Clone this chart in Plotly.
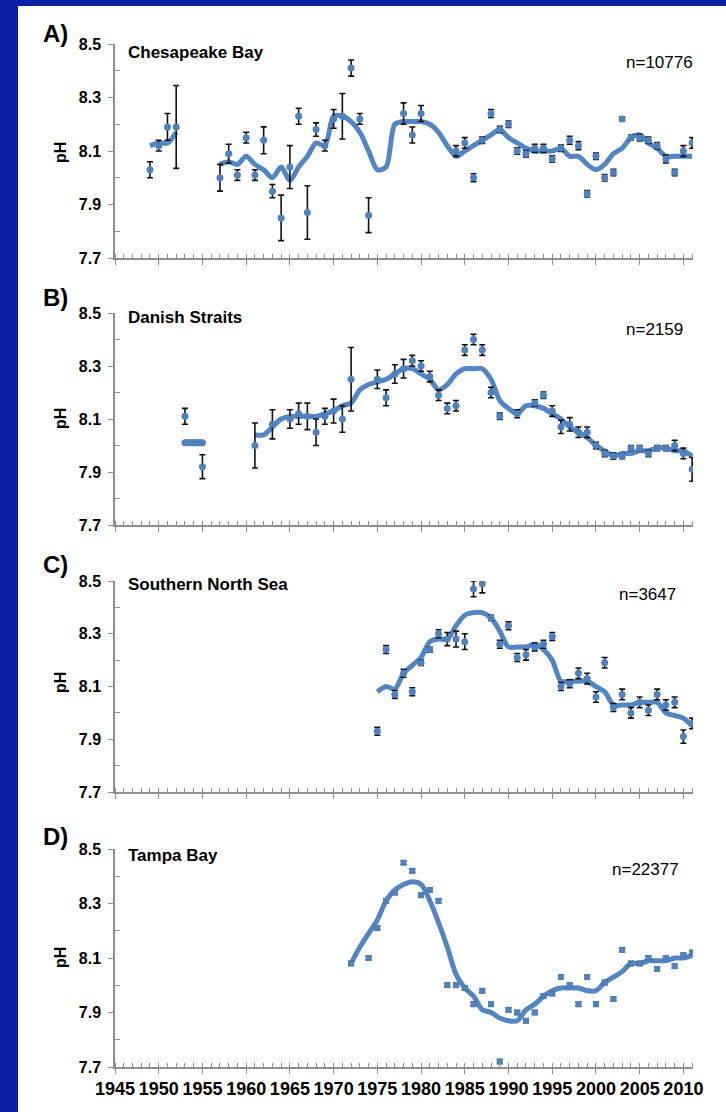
import plotly.graph_objects as go

W, H = 726, 1112

# ---------------- data ----------------
# A) Chesapeake Bay
years_A = [1949, 1950, 1951, 1952, 1957, 1958, 1959, 1960, 1961, 1962, 1963, 1964, 1965, 1966,
           1967, 1968, 1969, 1970, 1971, 1972, 1973, 1974, 1978, 1979, 1980, 1984, 1985, 1986,
           1987, 1988, 1989, 1990, 1991, 1992, 1993, 1994, 1995, 1996, 1997, 1998, 1999, 2000,
           2001, 2002, 2003, 2004, 2005, 2006, 2007, 2008, 2009, 2010, 2011]
ph_A = [8.03, 8.12, 8.19, 8.19, 8.00, 8.09, 8.01, 8.15, 8.01, 8.14, 7.95, 7.85, 8.04, 8.23,
        7.87, 8.18, 8.12, 8.22, 8.23, 8.41, 8.22, 7.86, 8.24, 8.16, 8.24, 8.10, 8.13, 8.00,
        8.14, 8.24, 8.18, 8.20, 8.10, 8.09, 8.11, 8.11, 8.07, 8.11, 8.14, 8.12, 7.94, 8.08,
        8.00, 8.02, 8.22, 8.15, 8.15, 8.14, 8.12, 8.07, 8.02, 8.10, 8.13]
err_A = [0.03, 0.02, 0.05, 0.155, 0.05, 0.035, 0.02, 0.02, 0.02, 0.05, 0.025, 0.085, 0.08, 0.03,
         0.10, 0.025, 0.02, 0.035, 0.085, 0.03, 0.02, 0.065, 0.04, 0.03, 0.03, 0.02, 0.02, 0.015,
         0.012, 0.015, 0.012, 0.012, 0.012, 0.012, 0.015, 0.015, 0.012, 0.012, 0.015, 0.015, 0.012, 0.012,
         0.012, 0.012, 0.008, 0.01, 0.012, 0.012, 0.012, 0.015, 0.012, 0.02, 0.02]
trend_years_A = [1949, 1950, 1951, 1952, 1954, 1957, 1958, 1959, 1960, 1961, 1962, 1963, 1964, 1965,
                 1966, 1967, 1968, 1969, 1970, 1971, 1972, 1973, 1974, 1975, 1976, 1977, 1978,
                 1979, 1980, 1981, 1982, 1983, 1984, 1985, 1986, 1987, 1988, 1989, 1990, 1991,
                 1992, 1993, 1994, 1995, 1996, 1997, 1998, 1999, 2000, 2001, 2002, 2003, 2004,
                 2005, 2006, 2007, 2008, 2009, 2010, 2011]
trend_A = [8.12, 8.13, 8.13, 8.17, None, 8.05, 8.06, 8.05, 8.08, 8.05, 8.03, 8.00, 8.04, 7.99,
           8.04, 8.08, 8.13, 8.12, 8.23, 8.23, 8.21, 8.17, 8.10, 8.03, 8.04, 8.20, 8.21,
           8.21, 8.21, 8.20, 8.17, 8.12, 8.08, 8.10, 8.12, 8.14, 8.16, 8.18, 8.15, 8.13,
           8.11, 8.10, 8.10, 8.10, 8.11, 8.08, 8.08, 8.05, 8.03, 8.05, 8.09, 8.11, 8.15,
           8.16, 8.13, 8.11, 8.08, 8.08, 8.08, 8.08]

# B) Danish Straits
years_B = [1953, 1955, 1961, 1963, 1965, 1966, 1967, 1968, 1969, 1970, 1971, 1972, 1975, 1976,
           1977, 1978, 1979, 1980, 1981, 1982, 1983, 1984, 1985, 1986, 1987, 1988, 1989, 1991,
           1993, 1994, 1995, 1996, 1997, 1998, 1999, 2000, 2001, 2002, 2003, 2004, 2005, 2006,
           2007, 2008, 2009, 2010, 2011]
ph_B = [8.11, 7.92, 8.00, 8.08, 8.10, 8.12, 8.11, 8.05, 8.11, 8.13, 8.10, 8.25, 8.25, 8.18,
        8.27, 8.29, 8.32, 8.30, 8.26, 8.19, 8.14, 8.15, 8.36, 8.40, 8.36, 8.20, 8.11, 8.12,
        8.16, 8.19, 8.13, 8.07, 8.08, 8.05, 8.05, 8.00, 7.97, 7.96, 7.96, 7.99, 7.99, 7.97,
        7.99, 7.99, 8.00, 7.97, 7.91]
err_B = [0.03, 0.045, 0.085, 0.055, 0.035, 0.04, 0.05, 0.05, 0.03, 0.045, 0.05, 0.12, 0.035, 0.03,
         0.035, 0.035, 0.02, 0.02, 0.02, 0.02, 0.02, 0.02, 0.02, 0.02, 0.02, 0.02, 0.012, 0.015,
         0.012, 0.012, 0.02, 0.025, 0.025, 0.02, 0.02, 0.012, 0.012, 0.012, 0.01, 0.01, 0.01, 0.012,
         0.01, 0.01, 0.02, 0.02, 0.045]
cluster_years_B = [1953.0, 1953.2, 1953.4, 1953.6, 1953.8, 1954.0, 1954.2, 1954.4, 1954.6,
                   1954.8, 1955.0]
cluster_ph_B = [8.01] * 11
trend_years_B = [1961, 1962, 1963, 1964, 1965, 1966, 1967, 1968, 1969, 1970, 1971, 1972, 1973,
                 1974, 1975, 1976, 1977, 1978, 1979, 1980, 1981, 1982, 1983, 1984, 1985, 1986,
                 1987, 1988, 1989, 1990, 1991, 1992, 1993, 1994, 1995, 1996, 1997, 1998, 1999,
                 2000, 2001, 2002, 2003, 2004, 2005, 2006, 2007, 2008, 2009, 2010, 2011]
trend_B = [8.04, 8.04, 8.07, 8.10, 8.11, 8.11, 8.11, 8.11, 8.12, 8.13, 8.15, 8.16, 8.21,
           8.23, 8.24, 8.25, 8.27, 8.29, 8.29, 8.27, 8.25, 8.21, 8.23, 8.27, 8.29, 8.29,
           8.29, 8.25, 8.17, 8.14, 8.12, 8.15, 8.15, 8.14, 8.12, 8.10, 8.07, 8.05, 8.03,
           8.00, 7.98, 7.96, 7.97, 7.97, 7.98, 7.98, 7.99, 7.99, 7.98, 7.98, 7.96]

# C) Southern North Sea
years_C = list(range(1975, 2012))
ph_C = [7.93, 8.24, 8.07, 8.15, 8.08, 8.19, 8.24, 8.30, 8.28, 8.28, 8.27, 8.47, 8.49, 8.36,
        8.26, 8.33, 8.21, 8.22, 8.25, 8.26, 8.29, 8.10, 8.11, 8.15, 8.13, 8.06, 8.19, 8.02,
        8.07, 8.00, 8.04, 8.01, 8.07, 8.03, 8.04, 7.91, 7.96]
err_C = [0.015, 0.015, 0.015, 0.015, 0.015, 0.01, 0.01, 0.015, 0.025, 0.03, 0.03, 0.03, 0.035, 0.01,
         0.015, 0.015, 0.015, 0.02, 0.015, 0.015, 0.015, 0.015, 0.015, 0.02, 0.02, 0.02, 0.02, 0.015,
         0.02, 0.02, 0.02, 0.02, 0.02, 0.02, 0.02, 0.025, 0.02]
trend_years_C = list(range(1975, 2012))
trend_C = [8.08, 8.10, 8.09, 8.15, 8.18, 8.21, 8.27, 8.28, 8.28, 8.33, 8.37, 8.38, 8.38, 8.36,
           8.31, 8.25, 8.25, 8.25, 8.26, 8.24, 8.20, 8.12, 8.12, 8.12, 8.12, 8.10, 8.08, 8.03,
           8.03, 8.03, 8.04, 8.04, 8.04, 8.00, 7.99, 7.98, 7.95]

# D) Tampa Bay
years_D = [1972, 1974, 1975, 1976, 1977, 1978, 1979, 1980, 1981, 1982, 1983, 1984, 1985, 1986,
           1987, 1988, 1989, 1990, 1991, 1992, 1993, 1994, 1995, 1996, 1997, 1998, 1999, 2000,
           2001, 2002, 2003, 2004, 2005, 2006, 2007, 2008, 2009, 2010, 2011]
ph_D = [8.08, 8.10, 8.21, 8.31, 8.34, 8.45, 8.42, 8.33, 8.35, 8.31, 8.00, 8.00, 7.99, 7.93,
        7.98, 7.93, 7.72, 7.91, 7.90, 7.87, 7.90, 7.96, 7.97, 8.03, 8.00, 7.93, 8.03, 7.93,
        8.01, 7.95, 8.13, 8.08, 8.08, 8.10, 8.06, 8.10, 8.07, 8.11, 8.12]
err_D = [0.007] * len(years_D)
trend_years_D = [1972, 1973, 1974, 1975, 1976, 1977, 1978, 1979, 1980, 1981, 1982, 1983, 1984,
                 1985, 1986, 1987, 1988, 1989, 1990, 1991, 1992, 1993, 1994, 1995, 1996, 1997,
                 1998, 1999, 2000, 2001, 2002, 2003, 2004, 2005, 2006, 2007, 2008, 2009, 2010, 2011]
trend_D = [8.08, 8.14, 8.19, 8.24, 8.31, 8.35, 8.37, 8.38, 8.37, 8.31, 8.23, 8.14, 8.04,
           7.99, 7.96, 7.91, 7.90, 7.88, 7.87, 7.87, 7.91, 7.93, 7.96, 7.98, 7.99, 7.99,
           7.99, 7.98, 7.98, 8.01, 8.03, 8.05, 8.08, 8.08, 8.09, 8.09, 8.09, 8.10, 8.10, 8.11]

panel_letters = ["A)", "B)", "C)", "D)"]
panel_names = ["Chesapeake Bay", "Danish Straits", "Southern North Sea", "Tampa Bay"]
panel_counts = ["n=10776", "n=2159", "n=3647", "n=22377"]
y_tick_vals = [7.7, 7.9, 8.1, 8.3, 8.5]
y_tick_text = ["7.7", "7.9", "8.1", "8.3", "8.5"]
x_tick_vals = list(range(1945, 2011, 5))
x_tick_text = [str(v) for v in x_tick_vals]

# ---------------- styling / layout ----------------
FONT = "Liberation Sans, Arial, sans-serif"
FRAME_BLUE = "#0a1ea6"
PT_COLOR = "#4f81bd"
LINE_COLOR = "rgba(74,126,192,0.95)"
AXIS_GRAY = "#8f8f8f"

# panel pixel boxes (top, bottom) and x extent
x_left_px, x_right_px = 115, 693
panel_px = [(44, 258), (313, 525), (581, 792), (849, 1067)]


def xp(px):
    return px / W


def yp(py):
    return 1 - py / H


fig = go.Figure()

series = [
    (years_A, ph_A, err_A, trend_years_A, trend_A, "circle", 7),
    (years_B, ph_B, err_B, trend_years_B, trend_B, "circle", 7),
    (years_C, ph_C, err_C, trend_years_C, trend_C, "circle", 7),
    (years_D, ph_D, err_D, trend_years_D, trend_D, "square", 6),
]

for i, (yrs, ph, err, tyrs, tr, sym, msz) in enumerate(series):
    ax = "" if i == 0 else str(i + 1)
    fig.add_trace(go.Scatter(
        x=tyrs, y=tr, mode="lines", xaxis="x" + ax, yaxis="y" + ax,
        line=dict(color=LINE_COLOR, width=5, shape="spline", smoothing=0.8),
        connectgaps=False, hoverinfo="skip", showlegend=False))
    fig.add_trace(go.Scatter(
        x=yrs, y=ph, mode="markers", xaxis="x" + ax, yaxis="y" + ax,
        marker=dict(color=PT_COLOR, size=msz, symbol=sym, line=dict(width=0)),
        error_y=dict(type="data", array=err, visible=True, color="#111111",
                     thickness=1.6, width=3),
        showlegend=False))
    if i == 1:
        fig.add_trace(go.Scatter(
            x=cluster_years_B, y=cluster_ph_B, mode="markers", xaxis="x2", yaxis="y2",
            marker=dict(color=PT_COLOR, size=7, symbol="circle", line=dict(width=0)),
            showlegend=False))

layout = dict(
    width=W, height=H, autosize=False,
    margin=dict(l=0, r=0, t=0, b=0, pad=0, autoexpand=False),
    paper_bgcolor=FRAME_BLUE,
    plot_bgcolor="rgba(0,0,0,0)",
    font=dict(family=FONT, color="black"),
    showlegend=False,
    shapes=[dict(type="rect", xref="paper", yref="paper", x0=xp(18), x1=1.0,
                 y0=0.0, y1=yp(6), fillcolor="white", line=dict(width=0), layer="below")],
    annotations=[],
)

for i, (top, bot) in enumerate(panel_px):
    ax = "" if i == 0 else str(i + 1)
    xkey = "xaxis" + ax
    ykey = "yaxis" + ax
    ydom = [yp(bot), yp(top)]
    layout[xkey] = dict(
        domain=[xp(x_left_px), xp(x_right_px)], anchor="y" + ax, automargin=False,
        range=[1945, 2011.1], showgrid=False, zeroline=False,
        showline=True, linecolor=AXIS_GRAY, linewidth=1.5,
        tickmode="array", tickvals=x_tick_vals, ticktext=x_tick_text,
        ticks="outside", ticklen=5, tickwidth=1.3, tickcolor=AXIS_GRAY,
        showticklabels=(i == 3),
        tickfont=dict(family=FONT, size=18, color="black", weight="bold"),
        minor=dict(tickmode="linear", tick0=1945, dtick=1, ticks="inside", ticklen=4,
                   tickwidth=1.2, tickcolor=AXIS_GRAY, showgrid=False),
    )
    layout[ykey] = dict(
        domain=ydom, anchor="x" + ax, range=[7.7, 8.5], automargin=False,
        showgrid=False, zeroline=False,
        showline=True, linecolor=AXIS_GRAY, linewidth=1.5,
        tickmode="array", tickvals=y_tick_vals, ticktext=y_tick_text,
        ticks="outside", ticklen=5, tickwidth=1.3, tickcolor=AXIS_GRAY,
        ticklabelstandoff=4,
        tickfont=dict(family=FONT, size=16, color="black", weight="bold"),
        minor=dict(tickmode="linear", tick0=7.8, dtick=0.2, ticks="inside", ticklen=5,
                   tickwidth=1.3, tickcolor=AXIS_GRAY, showgrid=False),
    )
    # overlay axis giving the inner half of the major x ticks
    ov = str(5 + i)
    layout["xaxis" + ov] = dict(
        domain=[xp(x_left_px), xp(x_right_px)], anchor="y" + ax, overlaying="x" + ax,
        range=[1945, 2011.1], showgrid=False, zeroline=False, showline=False,
        automargin=False,
        tickmode="array", tickvals=x_tick_vals + [2011], ticks="inside", ticklen=6,
        tickwidth=1.3, tickcolor=AXIS_GRAY, showticklabels=False,
    )

# text positions (pixels)
letter_pos = [(41, 33), (41, 297), (41, 564), (41, 836)]
name_pos = [(126, 52), (126, 317), (126, 584), (126, 855)]
count_pos = [(695, 63), (685, 330), (678, 594), (681, 869)]
ph_label_pos = [(60, 153), (60, 419), (60, 683), (60, 958)]

for i in range(4):
    layout["annotations"].append(dict(
        text=panel_letters[i], xref="paper", yref="paper", x=xp(letter_pos[i][0]),
        y=yp(letter_pos[i][1]), xanchor="left", yanchor="middle", showarrow=False,
        font=dict(family=FONT, size=24, color="black", weight="bold")))
    layout["annotations"].append(dict(
        text=panel_names[i], xref="paper", yref="paper", x=xp(name_pos[i][0]),
        y=yp(name_pos[i][1]), xanchor="left", yanchor="middle", showarrow=False,
        font=dict(family=FONT, size=17, color="black", weight="bold")))
    layout["annotations"].append(dict(
        text=panel_counts[i], xref="paper", yref="paper", x=xp(count_pos[i][0]),
        y=yp(count_pos[i][1]), xanchor="right", yanchor="middle", showarrow=False,
        font=dict(family=FONT, size=17, color="black")))
    layout["annotations"].append(dict(
        text="pH", xref="paper", yref="paper", x=xp(ph_label_pos[i][0]),
        y=yp(ph_label_pos[i][1]), xanchor="center", yanchor="middle", showarrow=False,
        textangle=-90, font=dict(family=FONT, size=16, color="black", weight="bold")))

fig.update_layout(**layout)
fig.write_html("out.html")
